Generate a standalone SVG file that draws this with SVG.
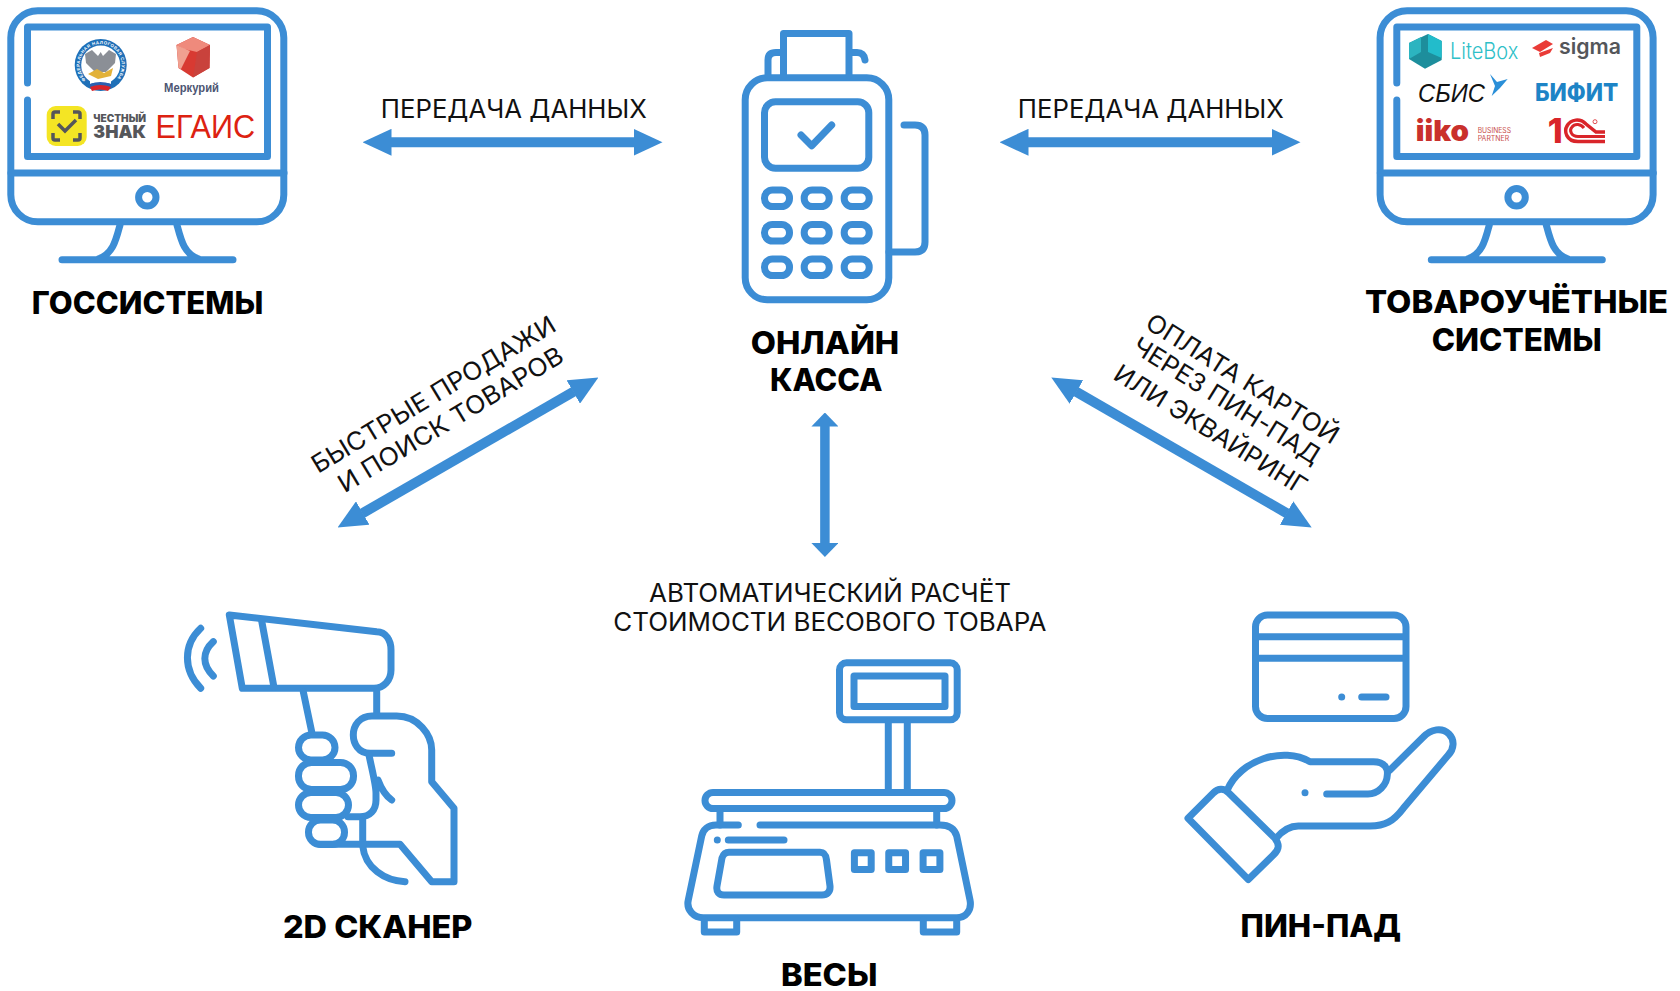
<svg xmlns="http://www.w3.org/2000/svg" xmlns:xlink="http://www.w3.org/1999/xlink" width="1680" height="991" viewBox="0 0 1680 991">
<style>
.i{fill:none;stroke:#3c8dd5;stroke-width:7;stroke-linecap:round;stroke-linejoin:round}
.t{font-family:Inter,"Liberation Sans",sans-serif;font-weight:800;font-size:31px;fill:#000;text-anchor:middle}
.l{font-family:Inter,"Liberation Sans",sans-serif;font-weight:400;font-size:25px;fill:#111;text-anchor:middle}
.a{stroke:#3c8dd5;stroke-width:10;fill:none;marker-start:url(#h);marker-end:url(#h)}
.lg{font-family:"Liberation Sans",sans-serif}
.in{font-family:Inter,"Liberation Sans",sans-serif}
</style>
<defs>
<marker id="h" markerUnits="userSpaceOnUse" viewBox="0 0 29 27" markerWidth="29" markerHeight="27" refX="0.5" refY="13.5" orient="auto-start-reverse"><path d="M0,0L29,13.5L0,27Z" fill="#3c8dd5"/></marker>
<marker id="v" markerUnits="userSpaceOnUse" viewBox="0 0 14 27" markerWidth="14" markerHeight="27" refX="0.5" refY="13.5" orient="auto-start-reverse"><path d="M0,0L14,13.500L0,27Z" fill="#3c8dd5"/></marker>
<g id="monitor">
<rect class="i" x="10.800" y="10.800" width="273" height="211" rx="27"/>
<path class="i" d="M27.500,83V27H267.500V156.500H27.500V100"/>
<path class="i" d="M11,173H284"/>
<circle class="i" cx="147.300" cy="197.300" r="8.700"/>
<path class="i" d="M120,225C116,240 113,254 98,259M177,225C181,240 184,254 199,259M62,259.700H233"/>
</g>
<path id="fnsring" d="M85.850,79.850A21,21 0 1 1 115.550,79.850"/>
</defs>
<rect width="1680" height="991" fill="#fff"/>
<g id="connectors">
<path class="a" d="M391,142.300H634"/>
<path class="a" d="M1028,142.300H1272"/>
<path class="a" d="M362.300,513.300L573.700,391.700"/>
<path class="a" d="M1076,391.700L1287,513.300"/>
<path d="M824.900,426V543.500" stroke="#3c8dd5" stroke-width="9.500" fill="none" marker-start="url(#v)" marker-end="url(#v)"/>
</g>
<g id="gossistemy">
<use xlink:href="#monitor" href="#monitor"/>
<circle cx="100.700" cy="65" r="26" fill="#1f70b8"/><circle cx="100.700" cy="65" r="19.500" fill="#fff"/>
<text class="lg" font-size="4.400" font-weight="700" fill="#fff"><textPath href="#fnsring" xlink:href="#fnsring" textLength="96" lengthAdjust="spacing">ФЕДЕРАЛЬНАЯ НАЛОГОВАЯ СЛУЖБА</textPath></text>
<path d="M100.700,52L103,56L109,50L116,54L115,63L110,68L106,72H95L91,68L86,63L85,54L92,50L98,56Z" fill="#8b8f96"/>
<path d="M88,74L97,69L104,73L113,68L111,76L98,79Z" fill="#e2b23a"/>
<path d="M90,81Q100,77 111,81L111,84Q100,80 90,84Z" fill="#fff"/><path d="M90,84Q100,80 111,84L111,87Q100,83 90,87Z" fill="#2b5eb0"/><path d="M90,87Q100,83 111,87L108,91Q100,88 92,91Z" fill="#d8232a"/>
<path d="M193,37L210,45L209.500,68L193,77.500L178.500,68L176.500,45Z" fill="#d83a32"/><path d="M193,37L210,45L197,52L184,49L176.500,45Z" fill="#ef8a7c"/><path d="M197,52L210,45L209.500,68L193,77.500Z" fill="#c9423c"/><path d="M176.500,45L190,51L181,69L178.500,68Z" fill="#f0a090"/>
<text class="lg" x="191.500" y="91.700" font-size="12.500" font-weight="700" fill="#4d5673" text-anchor="middle" textLength="55" lengthAdjust="spacingAndGlyphs">Меркурий</text>
<rect x="46.700" y="106" width="40" height="40" rx="9" fill="#f4e524"/>
<path d="M53,119V114Q53,112 55,112H60M73,112H78Q80,112 80,114V119M53,133V138Q53,140 55,140H60M73,140H78Q80,140 80,138V133" fill="none" stroke="#55565a" stroke-width="3.500"/>
<path d="M58,124L65,131L76,120" fill="none" stroke="#55565a" stroke-width="3.500"/>
<text class="in" x="93.300" y="121.700" font-size="10" font-weight="900" fill="#55565a" textLength="52.700" lengthAdjust="spacingAndGlyphs">ЧЕСТНЫЙ</text>
<text class="in" x="93.300" y="137.700" font-size="18" font-weight="900" fill="#55565a" textLength="52.700" lengthAdjust="spacingAndGlyphs">ЗНАК</text>
<text class="lg" x="155.500" y="138.300" font-size="34" fill="#dd2211" textLength="99.500" lengthAdjust="spacingAndGlyphs">ЕГАИС</text>
<text class="t" x="147.500" y="314" textLength="231.600" lengthAdjust="spacingAndGlyphs">ГОССИСТЕМЫ</text>
</g>
<g id="tovarouchet">
<use xlink:href="#monitor" href="#monitor" x="1369.300"/>
<path d="M1409,43L1428,34L1441.700,41V60L1425,68.700L1409,59Z" fill="#1d8e9c"/><path d="M1428,34L1441.700,41V58L1428,52Z" fill="#22bccb"/><path d="M1409,43L1421,37V52L1409,59Z" fill="#2cb4c0"/>
<text class="in" x="1450" y="59.300" font-size="22.500" font-weight="300" fill="#2fbfc8" textLength="68.300" lengthAdjust="spacingAndGlyphs">LiteBox</text>
<path d="M1532,48L1546,40L1553,44L1540,52ZM1539,53L1553,48L1550,53L1540,57Z" fill="#ea3b37"/>
<text class="in" x="1559" y="54.300" font-size="21.500" font-weight="600" fill="#54565a" textLength="62" lengthAdjust="spacingAndGlyphs">sigma</text>
<text class="lg" x="1418" y="101.700" font-size="25" font-style="italic" fill="#111" textLength="67" lengthAdjust="spacingAndGlyphs">СБИС</text>
<path d="M1490,74L1497,82L1507.700,79L1500,88L1491.700,96L1495,86Z" fill="#2a8fd8"/>
<text class="in" x="1535" y="100.700" font-size="24" font-weight="800" fill="#1d84c6" textLength="83.300" lengthAdjust="spacingAndGlyphs">БИФИТ</text>
<text class="in" x="1415.700" y="140.700" font-size="29" font-weight="900" fill="#c9302c" textLength="53.300" lengthAdjust="spacingAndGlyphs">iiko</text>
<text class="in" x="1477.700" y="132.700" font-size="7" fill="#c9504c" textLength="33.300" lengthAdjust="spacingAndGlyphs">BUSINESS</text>
<text class="in" x="1477.700" y="141.300" font-size="7" fill="#c9504c" textLength="31.500" lengthAdjust="spacingAndGlyphs">PARTNER</text>
<text class="in" x="1547.700" y="143" font-size="34" font-weight="800" fill="#d9252a">1</text>
<path d="M1605,141.500H1578C1566,141.500 1564,131 1567,126C1571,119 1580,118 1586,124L1596,132H1605" fill="none" stroke="#d9252a" stroke-width="3.500"/><path d="M1605,136.500H1578C1571,136.500 1569,130 1572,127C1575,123 1581,124 1584,128" fill="none" stroke="#d9252a" stroke-width="3"/>
<circle cx="1595" cy="121.700" r="2" fill="none" stroke="#d9252a" stroke-width="0.800"/>
<text class="t" x="1516.500" y="312.700" textLength="303" lengthAdjust="spacingAndGlyphs">ТОВАРОУЧЁТНЫЕ</text>
<text class="t" x="1516.700" y="350.700" textLength="170" lengthAdjust="spacingAndGlyphs">СИСТЕМЫ</text>
</g>
<g id="kassa">
<rect class="i" x="745.200" y="77.800" width="143.600" height="222" rx="22"/>
<rect class="i" x="764.500" y="101.800" width="104.300" height="66.400" rx="11"/>
<path class="i" d="M801,135L811.700,145.700L831.700,125"/>
<g class="i">
<rect x="764.500" y="190" width="25" height="16.500" rx="8"/><rect x="804.200" y="190" width="25" height="16.500" rx="8"/><rect x="844.200" y="190" width="25" height="16.500" rx="8"/>
<rect x="764.500" y="224.500" width="25" height="16.500" rx="8"/><rect x="804.200" y="224.500" width="25" height="16.500" rx="8"/><rect x="844.200" y="224.500" width="25" height="16.500" rx="8"/>
<rect x="764.500" y="259" width="25" height="16.500" rx="8"/><rect x="804.200" y="259" width="25" height="16.500" rx="8"/><rect x="844.200" y="259" width="25" height="16.500" rx="8"/>
</g>
<path class="i" d="M783.500,75V33.500H849V75M783,52.500H776Q768,52.500 768,60V75M849,52.500H857Q864,52.500 865,60"/>
<path class="i" d="M904,125H915Q925,125 925,135V242Q925,252 915,252H889"/>
<text class="t" x="825" y="354" textLength="148.600" lengthAdjust="spacingAndGlyphs">ОНЛАЙН</text>
<text class="t" x="826.300" y="391" textLength="112.700" lengthAdjust="spacingAndGlyphs">КАССА</text>
</g>
<g id="skaner">
<path class="i" d="M229.300,615L376.700,631.700C386,632 391,640 391,650V670C391,680 384,688.300 374,688.300H242.300Z"/>
<path class="i" d="M261.700,621L274,687.300"/>
<path class="i" d="M200.700,628.300C183,645 183,670 200.700,688.300M213.300,641.700C202,652 202,665 213.300,676"/>
<path class="i" d="M303.300,691.700L311.700,731.700M376.700,691.700V715"/>
<rect class="i" x="298.500" y="735" width="36.500" height="25" rx="12.500"/>
<rect class="i" x="298.500" y="762.500" width="55" height="27" rx="13"/>
<rect class="i" x="298.500" y="792.500" width="50" height="25" rx="12.500"/>
<rect class="i" x="308.500" y="820" width="36" height="24.500" rx="12"/>
<path class="i" d="M391.700,753.300H370C358,753 353.300,743 353.300,735C353.300,725 360,716 372,716H396.700C418,716 431.700,735 431.700,750V781.700L454,808.300V881.700H431.700L400,844.300H320"/>
<path class="i" d="M369,755C372,770 376,785 376,793V800C376,810 370,816.700 360,816.700H348M378,780C381,788 386,796 391.700,800"/>
<path class="i" d="M362.700,818V846C365,868 385,881 405,881.700"/>
<text class="t" x="377.700" y="937.500" textLength="189.500" lengthAdjust="spacingAndGlyphs">2D СКАНЕР</text>
</g>
<g id="vesy">
<rect class="i" x="839.500" y="662.800" width="117.700" height="57" rx="7"/>
<rect class="i" x="854" y="676" width="91" height="30.500" stroke-width="6"/>
<path class="i" d="M888.300,722V790M907.300,722V790"/>
<rect class="i" x="705" y="792.500" width="247" height="16" rx="8"/>
<path class="i" d="M720,811V825M936.700,811V825"/>
<path class="i" d="M738.300,825H716C708,825 703,830 701.700,836L688.300,900C686,910 694,917.700 703.300,917.700H956.700C966,917.700 972,910 970,900L956.700,836C955,830 950,825 940,825H760"/>
<circle cx="717.300" cy="840" r="3.500" fill="#3c8dd5"/>
<path class="i" d="M728.300,840H784"/>
<path class="i" d="M729,852.300H820C825,852.300 826,856 826.500,860L830,886C830.500,892 827,895 822,895H724C719,895 716,892 717,886L722,858C723,855 725,852.300 729,852.300Z"/>
<rect class="i" x="854.400" y="852.750" width="16.800" height="16.800" stroke-width="6"/>
<rect class="i" x="888.750" y="852.750" width="16.800" height="16.800" stroke-width="6"/>
<rect class="i" x="923.100" y="852.750" width="16.800" height="16.800" stroke-width="6"/>
<path class="i" d="M704.300,920V932H736.700V920M923.300,920V932H956.700V920"/>
<text class="t" x="829.200" y="985.700" textLength="96.500" lengthAdjust="spacingAndGlyphs">ВЕСЫ</text>
</g>
<g id="pinpad">
<rect class="i" x="1255.500" y="615" width="150.500" height="103.500" rx="12"/>
<path class="i" d="M1256,636.700H1405M1256,658.300H1405"/>
<circle cx="1341.700" cy="697" r="3.500" fill="#3c8dd5"/>
<path class="i" d="M1361.700,697H1386"/>
<path class="i" d="M1188,818.300L1213.300,793C1218,788 1224,788 1228.300,792.500L1275,838.300C1280,845 1279,850 1273.300,855L1248.300,879.500Z"/>
<path class="i" d="M1227.300,790C1240,760 1283,746 1310,761.700H1373.300C1386,761.700 1388,770 1387.300,775C1387,785 1378,794 1368,794H1326.700"/>
<path class="i" d="M1390,770L1423.300,737C1431,729 1442,727 1449,734C1455,740 1454,749 1448.300,755L1403.300,808.300C1393,821.700 1385,826 1370,826H1298.300C1290,826 1283,830 1276,838.300"/>
<circle cx="1305" cy="792.700" r="3.500" fill="#3c8dd5"/>
<text class="t" x="1320.800" y="937" textLength="160.400" lengthAdjust="spacingAndGlyphs">ПИН-ПАД</text>
</g>
<g id="labels">
<text class="l" x="513.800" y="117.700" textLength="266" lengthAdjust="spacingAndGlyphs">ПЕРЕДАЧА ДАННЫХ</text>
<text class="l" x="1150.800" y="117.700" textLength="266" lengthAdjust="spacingAndGlyphs">ПЕРЕДАЧА ДАННЫХ</text>
<text class="l" x="830" y="601.700" textLength="362" lengthAdjust="spacingAndGlyphs">АВТОМАТИЧЕСКИЙ РАСЧЁТ</text>
<text class="l" x="829.800" y="631" textLength="433" lengthAdjust="spacingAndGlyphs">СТОИМОСТИ ВЕСОВОГО ТОВАРА</text>
<text class="l" transform="translate(438 402) rotate(-31)" textLength="280" lengthAdjust="spacingAndGlyphs">БЫСТРЫЕ ПРОДАЖИ</text>
<text class="l" transform="translate(455 427) rotate(-31)" textLength="258" lengthAdjust="spacingAndGlyphs">И ПОИСК ТОВАРОВ</text>
<text class="l" transform="translate(1238 386) rotate(32)" textLength="222" lengthAdjust="spacingAndGlyphs">ОПЛАТА КАРТОЙ</text>
<text class="l" transform="translate(1222 408) rotate(32)" textLength="216" lengthAdjust="spacingAndGlyphs">ЧЕРЕЗ ПИН-ПАД</text>
<text class="l" transform="translate(1206 437) rotate(32)" textLength="222" lengthAdjust="spacingAndGlyphs">ИЛИ ЭКВАЙРИНГ</text>
</g>
</svg>
